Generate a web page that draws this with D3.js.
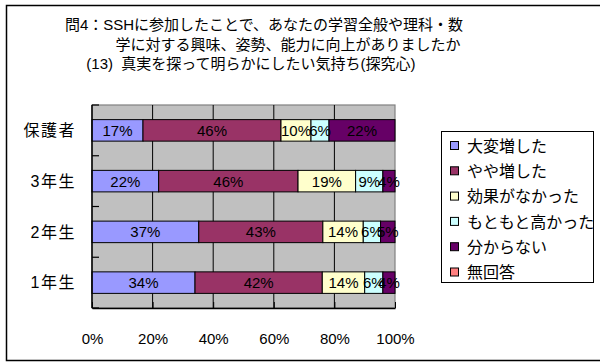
<!DOCTYPE html>
<html>
<head>
<meta charset="utf-8">
<script src="https://cdn.jsdelivr.net/npm/d3@7"></script>
<style>
  html, body { margin: 0; padding: 0; background: #fff; }
  svg { display: block; }
  text { font-family: "Liberation Sans", "Noto Sans CJK JP", sans-serif; }
</style>
</head>
<body>
<div id="chart"></div>
<script>
// Respondent groups, top to bottom
const categories = ["保護者", "3年生", "2年生", "1年生"];
// Answer options (stack order, left to right)
const seriesNames = ["大変増した", "やや増した", "効果がなかった", "もともと高かった", "分からない", "無回答"];
const seriesColors = ["#9999FF", "#993366", "#FFFFCC", "#CCFFFF", "#660066", "#FF8080"];
// Percentages per group for each answer
const v大変増した = [17, 22, 37, 34];
const vやや増した = [46, 46, 43, 42];
const v効果がなかった = [10, 19, 14, 14];
const vもともと高かった = [6, 9, 6, 6];
const v分からない = [22, 4, 5, 4];
const v無回答 = [0, 0, 0, 0];
const xTicks = [0, 0.2, 0.4, 0.6, 0.8, 1];
const titleLines = [
  "問4：SSHに参加したことで、あなたの学習全般や理科・数",
  "学に対する興味、姿勢、能力に向上がありましたか",
  "(13)  真実を探って明らかにしたい気持ち(探究心)"
];

const seriesValues = [v大変増した, vやや増した, v効果がなかった, vもともと高かった, v分からない, v無回答];
const rows = categories.map((c, i) => {
  const r = { cat: c };
  seriesNames.forEach((s, j) => r[s] = seriesValues[j][i]);
  return r;
});

const W = 600, H = 362;
const plot = { left: 92, top: 105, right: 395, bottom: 308 };

const svg = d3.select("#chart").append("svg").attr("width", W).attr("height", H);

// Outer chart frame
svg.append("rect").attr("x", 6.5).attr("y", 5.5).attr("width", 600).attr("height", 355)
  .attr("fill", "#fff").attr("stroke", "#000").attr("stroke-width", 1.5);

// Title
const titleCenters = [264, 288, 251];
const titleBase = [30, 50, 69];
svg.append("g").selectAll("text").data(titleLines).join("text")
  .attr("x", (d, i) => titleCenters[i]).attr("y", (d, i) => titleBase[i])
  .attr("text-anchor", "middle").attr("font-size", 15).attr("fill", "#000")
  .attr("xml:space", "preserve")
  .text(d => d);

const x = d3.scaleLinear().domain([0, 1]).range([plot.left, plot.right]);
const y = d3.scaleBand().domain(categories).range([plot.top, plot.bottom])
  .paddingInner(0.576).paddingOuter(0.288);

// Plot background
svg.append("rect").attr("x", plot.left).attr("y", plot.top)
  .attr("width", plot.right - plot.left).attr("height", plot.bottom - plot.top)
  .attr("fill", "#C0C0C0").attr("stroke", "#808080").attr("stroke-width", 1.2);

// Vertical gridlines
svg.append("g").selectAll("line").data(xTicks.slice(1, -1)).join("line")
  .attr("x1", d => x(d)).attr("x2", d => x(d))
  .attr("y1", plot.top).attr("y2", plot.bottom)
  .attr("stroke", "#000").attr("stroke-width", 1);

// 100% stacked layout
const stack = d3.stack().keys(seriesNames).offset(d3.stackOffsetExpand);
const layers = stack(rows);

const gBars = svg.append("g");
layers.forEach((layer, li) => {
  gBars.append("g").selectAll("rect").data(layer).join("rect")
    .attr("x", d => x(d[0]))
    .attr("y", d => y(d.data.cat))
    .attr("width", d => x(d[1]) - x(d[0]))
    .attr("height", y.bandwidth())
    .attr("fill", seriesColors[li])
    .attr("stroke", "#000").attr("stroke-width", 1)
    .attr("display", d => d.data[layer.key] > 0 ? null : "none");
});

// Value labels centred in each segment
layers.forEach((layer) => {
  gBars.append("g").selectAll("text").data(layer.filter(d => d.data[layer.key] > 0)).join("text")
    .attr("x", d => (x(d[0]) + x(d[1])) / 2)
    .attr("y", d => y(d.data.cat) + y.bandwidth() / 2)
    .attr("dy", "0.36em")
    .attr("text-anchor", "middle")
    .attr("font-size", 15).attr("fill", "#000")
    .text(d => d.data[layer.key] + "%");
});

// Category axis (ticks on band boundaries, pointing inward)
const yAxisG = svg.append("g");
yAxisG.append("line").attr("x1", plot.left).attr("x2", plot.left)
  .attr("y1", plot.top).attr("y2", plot.bottom).attr("stroke", "#000").attr("stroke-width", 1.5);
yAxisG.selectAll("line.tick").data(d3.range(categories.length + 1)).join("line")
  .attr("class", "tick")
  .attr("x1", plot.left).attr("x2", plot.left + 7)
  .attr("y1", i => plot.top + i * (plot.bottom - plot.top) / categories.length)
  .attr("y2", i => plot.top + i * (plot.bottom - plot.top) / categories.length)
  .attr("stroke", "#000").attr("stroke-width", 1.2);
yAxisG.selectAll("text").data(categories).join("text")
  .attr("x", 76).attr("y", d => y(d) + y.bandwidth() / 2)
  .attr("dy", "0.36em").attr("text-anchor", "end")
  .attr("font-size", 16).attr("letter-spacing", 1.5).attr("fill", "#000")
  .text(d => d);

// Value axis
const xAxis = d3.axisBottom(x).tickValues(xTicks).tickFormat(d3.format(".0%")).tickSize(0).tickPadding(0);
const xg = svg.append("g").attr("transform", `translate(0,${plot.bottom})`).call(xAxis);
xg.select(".domain").attr("stroke", "#000").attr("stroke-width", 1.5);
xg.selectAll(".tick text").attr("y", 31).attr("dy", "0.36em")
  .attr("font-size", 15).attr("fill", "#000")
  .attr("font-family", "Liberation Sans, sans-serif");
xg.selectAll(".tick").append("line")
  .attr("y1", 0).attr("y2", -6).attr("stroke", "#000");

// Legend
const lg = svg.append("g");
lg.append("rect").attr("x", 441.5).attr("y", 131.5).attr("width", 152).attr("height", 151)
  .attr("fill", "#fff").attr("stroke", "#000").attr("stroke-width", 1);
const item = lg.selectAll("g.item").data(seriesNames).join("g").attr("class", "item")
  .attr("transform", (d, i) => `translate(450,${146 + i * 25.3})`);
item.append("rect").attr("x", 0.5).attr("y", -4.5).attr("width", 8).attr("height", 8)
  .attr("fill", (d, i) => seriesColors[i]).attr("stroke", "#000").attr("stroke-width", 1);
item.append("text").attr("x", 17).attr("y", 0).attr("dy", "0.36em")
  .attr("font-size", 16).attr("fill", "#000").text(d => d);
</script>
</body>
</html>
